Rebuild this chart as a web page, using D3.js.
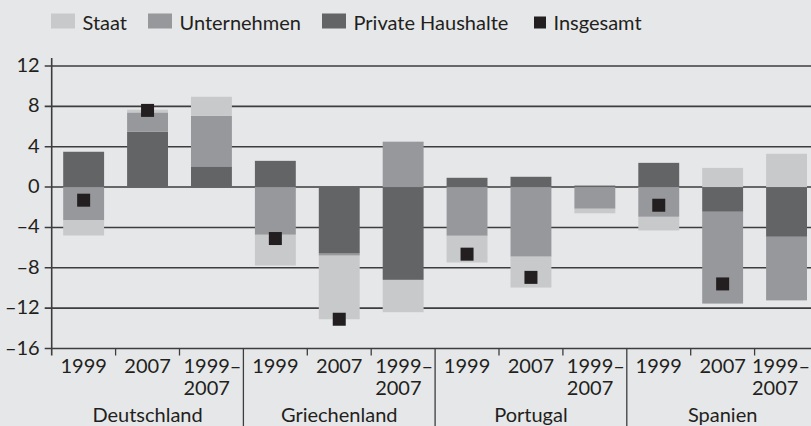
<!DOCTYPE html>
<html>
<head>
<meta charset="utf-8">
<script src="https://cdn.jsdelivr.net/npm/d3@7"></script>
<style>
  body { margin: 0; background: #e6e7e8; }
  svg { display: block; }
  text { font-family: Lato, "Open Sans", sans-serif; fill: #231f20; }
</style>
</head>
<body>
<svg id="chart" width="811" height="426"></svg>
<script>
// values (percent of GDP)
const groups = ["Deutschland", "Griechenland", "Portugal", "Spanien"];
const periods = ["1999", "2007", "1999–2007"];
const yTicks = [-16, -12, -8, -4, 0, 4, 8, 12];

const staat       = [-1.5, 0.27, 1.9, -3.05, -6.3, -3.2, -2.65, -3.06, -0.45, -1.35, 1.9, 3.3];
const unternehmen = [-3.3, 1.9, 5.0, -4.73, -0.2, 4.5, -4.83, -6.9, -2.15, -2.95, -9.1, -6.3];
const privat      = [3.5, 5.5, 2.05, 2.6, -6.6, -9.2, 0.92, 1.02, 0.15, 2.4, -2.45, -4.93];
const insgesamt   = [-1.3, 7.6, null, -5.1, -13.1, null, -6.65, -8.95, null, -1.8, -9.6, null];

const series = [
  {key: "privat", name: "Private Haushalte", color: "#636466"},
  {key: "unternehmen", name: "Unternehmen", color: "#97989b"},
  {key: "staat", name: "Staat", color: "#c8c9cb"}
];

// build rows for the stack
const rows = [];
groups.forEach((g, gi) => {
  periods.forEach((p, pi) => {
    const i = gi * periods.length + pi;
    rows.push({id: g + "|" + p, group: g, period: p,
      staat: staat[i], unternehmen: unternehmen[i], privat: privat[i], total: insgesamt[i]});
  });
});

const svg = d3.select("#chart");
const mLeft = 51.7, mRight = 818.5, mTop = 66, mBottom = 348.5;

const x = d3.scaleBand()
  .domain(rows.map(d => d.id))
  .range([mLeft, mRight])
  .paddingInner(0.36)
  .paddingOuter(0.18);

const y = d3.scaleLinear().domain([-16, 12]).range([mBottom, mTop]);

const stacked = d3.stack()
  .keys(series.map(s => s.key))
  .offset(d3.stackOffsetDiverging)(rows);

// gridlines
svg.append("g")
  .selectAll("line")
  .data(yTicks)
  .join("line")
  .attr("x1", mLeft - 7)
  .attr("x2", 811)
  .attr("y1", d => y(d))
  .attr("y2", d => y(d))
  .attr("stroke", "#3d3d3e")
  .attr("stroke-width", 1.6);

// y labels
svg.append("g")
  .selectAll("text")
  .data(yTicks)
  .join("text")
  .attr("x", mLeft - 12)
  .attr("y", d => y(d))
  .attr("dy", "0.3em")
  .attr("text-anchor", "end")
  .style("font-size", "20px")
  .text(d => d < 0 ? "–" + Math.abs(d) : d);

// bars
svg.append("g")
  .selectAll("g")
  .data(stacked)
  .join("g")
  .attr("fill", (d, i) => series[i].color)
  .selectAll("rect")
  .data(d => d)
  .join("rect")
  .attr("x", d => x(d.data.id))
  .attr("width", x.bandwidth())
  .attr("y", d => y(Math.max(d[0], d[1])))
  .attr("height", d => Math.abs(y(d[0]) - y(d[1])));

// total markers
const m = 13;
svg.append("g")
  .selectAll("rect")
  .data(rows.filter(d => d.total != null))
  .join("rect")
  .attr("x", d => x(d.id) + x.bandwidth() / 2 - m / 2)
  .attr("y", d => y(d.total) - m / 2)
  .attr("width", m)
  .attr("height", m)
  .attr("fill", "#231f20");

// axes lines
const ax = svg.append("g").attr("stroke", "#3d3d3e").attr("stroke-width", 1.6);
ax.append("line")
  .attr("x1", mLeft).attr("x2", mLeft)
  .attr("y1", mTop - 8).attr("y2", mBottom + 7);

const step = x.step();
d3.range(1, 12).forEach(i => {
  const xx = mLeft + i * step;
  const groupEdge = i % 3 === 0;
  ax.append("line")
    .attr("x1", xx).attr("x2", xx)
    .attr("y1", mBottom).attr("y2", groupEdge ? 426 : mBottom + 7)
    .attr("stroke-width", 1.3);
});

// period labels
const lab = svg.append("g").style("font-size", "20px");
rows.forEach(d => {
  const cx = x(d.id) + x.bandwidth() / 2;
  if (d.period.includes("–")) {
    const parts = d.period.split("–");
    const t1 = lab.append("text").attr("y", 373).text(parts[0] + "–");
    const w = t1.node().getComputedTextLength();
    const x0 = Math.min(cx - w / 2 + 1, 810 - w);
    t1.attr("x", x0);
    lab.append("text").attr("x", x0).attr("y", 395).text(parts[1]);
  } else {
    lab.append("text").attr("x", cx).attr("y", 373).attr("text-anchor", "middle").text(d.period);
  }
});

// group labels
groups.forEach((g, gi) => {
  const cx = mLeft + (gi * 3 + 1.5) * step;
  lab.append("text").attr("x", cx).attr("y", 422).attr("text-anchor", "middle").text(g);
});

// legend
const legend = [
  {name: "Staat", color: "#c8c9cb", x: 51, w: 24, h: 15},
  {name: "Unternehmen", color: "#97989b", x: 148, w: 24, h: 15},
  {name: "Private Haushalte", color: "#636466", x: 322, w: 24, h: 15},
  {name: "Insgesamt", color: "#231f20", x: 534, w: 12, h: 12}
];
const lg = svg.append("g").style("font-size", "20px");
legend.forEach(l => {
  lg.append("rect")
    .attr("x", l.x).attr("y", l.h === 15 ? 13.5 : 16.5)
    .attr("width", l.w).attr("height", l.h)
    .attr("fill", l.color);
  lg.append("text").attr("x", l.x + l.w + 7.5).attr("y", 29.5).text(l.name);
});
</script>
</body>
</html>
